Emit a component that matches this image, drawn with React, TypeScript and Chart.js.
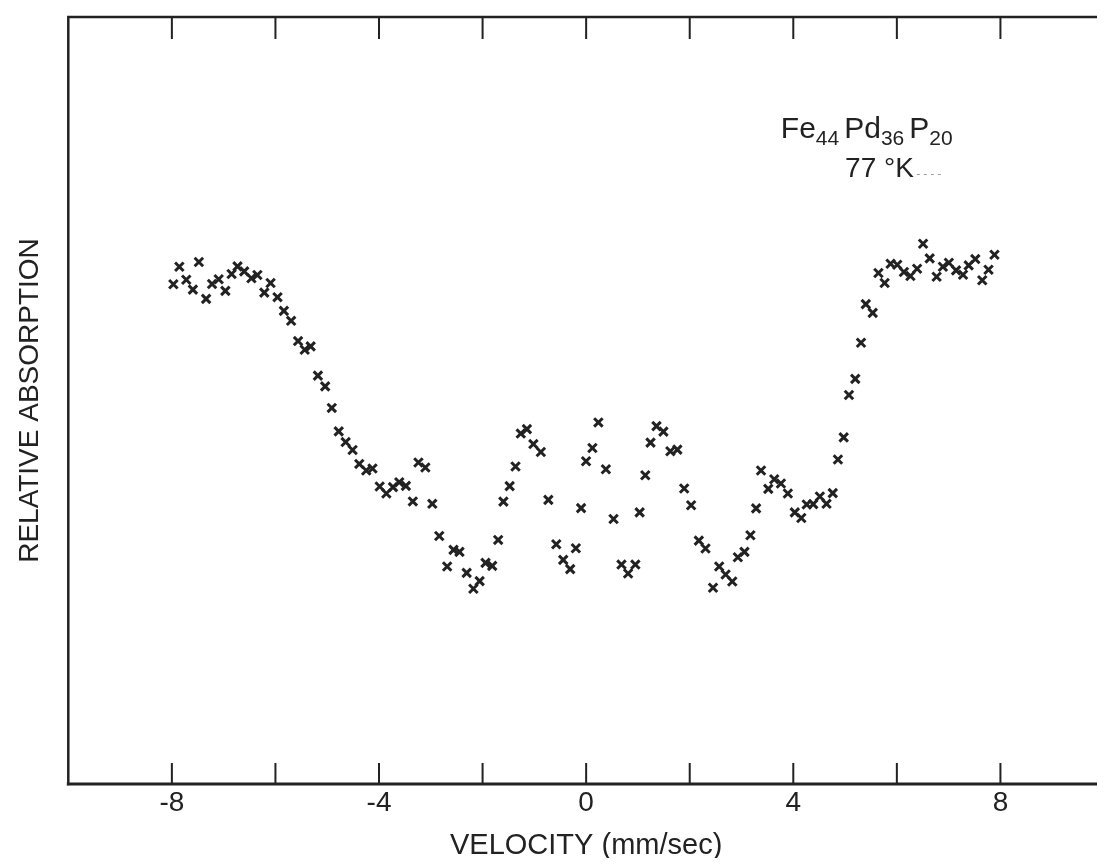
import React, { useEffect, useRef } from "react";
import { Chart, registerables } from "chart.js";

Chart.register(...registerables);

// Velocity (mm/sec) of each measured point
const velocity: number[] = [
  -7.971, -7.856, -7.722, -7.594, -7.479, -7.339, -7.224, -7.096, -6.967, -6.847,
  -6.732, -6.603, -6.464, -6.349, -6.215, -6.094, -5.96, -5.837, -5.697, -5.563,
  -5.435, -5.32, -5.18, -5.04, -4.912, -4.778, -4.644, -4.51, -4.381, -4.247,
  -4.126, -3.987, -3.858, -3.73, -3.609, -3.481, -3.347, -3.239, -3.105, -2.971,
  -2.837, -2.684, -2.561, -2.446, -2.307, -2.178, -2.057, -1.943, -1.814, -1.699,
  -1.598, -1.477, -1.364, -1.262, -1.144, -1.019, -0.875, -0.73, -0.577, -0.443,
  -0.308, -0.199, -0.098, -0.002, 0.121, 0.236, 0.381, 0.529, 0.682, 0.81,
  0.95, 1.033, 1.142, 1.243, 1.358, 1.492, 1.626, 1.761, 1.893, 2.027,
  2.176, 2.305, 2.45, 2.569, 2.693, 2.822, 2.929, 3.057, 3.172, 3.282,
  3.377, 3.517, 3.632, 3.761, 3.895, 4.029, 4.155, 4.259, 4.385, 4.513,
  4.642, 4.762, 4.862, 4.973, 5.075, 5.197, 5.308, 5.4, 5.534, 5.644,
  5.764, 5.879, 6.008, 6.136, 6.262, 6.391, 6.506, 6.634, 6.768, 6.889,
  7.004, 7.144, 7.278, 7.387, 7.515, 7.649, 7.77, 7.885,
];

// Relative absorption (arbitrary units, 0 = bottom of frame, 100 = top)
const absorption: number[] = [
  65.16, 67.44, 65.75, 64.45, 68.05, 63.25, 65.19, 65.81, 64.29, 66.49,
  67.49, 66.84, 65.94, 66.36, 64.06, 65.32, 63.47, 61.69, 60.39, 57.75,
  56.62, 57.05, 53.25, 51.84, 49.03, 45.97, 44.58, 43.55, 41.73, 40.87,
  41.13, 38.79, 37.88, 38.7, 39.35, 38.87, 36.84, 41.91, 41.26, 36.53,
  32.34, 28.35, 30.52, 30.26, 27.53, 25.45, 26.45, 28.83, 28.44, 31.82,
  36.82, 38.83, 41.39, 45.69, 46.27, 44.32, 43.29, 37.05, 31.26, 29.22,
  28.01, 30.74, 35.97, 42.08, 43.81, 47.14, 41.04, 34.55, 28.61, 27.44,
  28.61, 35.42, 40.26, 44.51, 46.66, 45.94, 43.38, 43.6, 38.53, 36.34,
  31.73, 30.71, 25.58, 28.35, 27.31, 26.4, 29.57, 30.26, 32.43, 35.94,
  40.87, 38.48, 39.74, 39.18, 37.88, 35.42, 34.68, 36.45, 36.49, 37.49,
  36.53, 37.92, 42.31, 45.19, 50.71, 52.82, 57.53, 62.56, 61.43, 66.62,
  65.32, 67.83, 67.7, 66.75, 66.23, 67.18, 70.43, 68.53, 66.14, 67.44,
  67.96, 66.97, 66.4, 67.62, 68.44, 65.68, 67.05, 69.0,
];

const xTickLabels: string[] = ["-8", "-4", "0", "4", "8"];
const xTitle = "VELOCITY (mm/sec)";
const yTitle = "RELATIVE ABSORPTION";
const compoundParts: { text: string; sub: boolean }[] = [
  { text: "Fe", sub: false },
  { text: "44", sub: true },
  { text: "Pd", sub: false },
  { text: "36", sub: true },
  { text: "P", sub: false },
  { text: "20", sub: true },
];
const temperatureLabel = "77 °K";

const INK = "#222222";
const FONT = '"Liberation Sans", Arial, Helvetica, sans-serif';

const framePlugin = {
  id: "frame",
  beforeDatasetsDraw(chart: any) {
    const { ctx, chartArea, scales } = chart;
    const { left, right, top, bottom } = chartArea;
    const x = scales.x;
    ctx.save();
    ctx.strokeStyle = INK;
    ctx.lineCap = "square";
    ctx.lineWidth = 2.5;
    ctx.beginPath();
    ctx.moveTo(left, bottom);
    ctx.lineTo(left, top);
    ctx.lineTo(right, top);
    ctx.lineTo(right, bottom);
    ctx.stroke();
    ctx.lineWidth = 3;
    ctx.beginPath();
    ctx.moveTo(left, bottom);
    ctx.lineTo(right, bottom);
    ctx.stroke();

    ctx.lineWidth = 2;
    ctx.lineCap = "butt";
    ctx.beginPath();
    x.ticks.forEach((t: any) => {
      if (Math.abs(t.value) >= 10) return;
      const px = x.getPixelForValue(t.value);
      ctx.moveTo(px, bottom);
      ctx.lineTo(px, bottom - 21);
      ctx.moveTo(px, top);
      ctx.lineTo(px, top + 22);
    });
    ctx.stroke();
    ctx.restore();
  },
  afterDraw(chart: any) {
    const { ctx, scales } = chart;
    const x = scales.x;
    const y = scales.y;
    ctx.save();
    ctx.fillStyle = INK;
    ctx.textBaseline = "alphabetic";
    ctx.textAlign = "left";
    // compound label
    let cx = x.getPixelForValue(3.76);
    const base = y.getPixelForValue(84.2);
    compoundParts.forEach((p, i) => {
      ctx.font = p.sub ? `21px ${FONT}` : `30px ${FONT}`;
      ctx.fillText(p.text, cx, p.sub ? base + 7 : base);
      cx += ctx.measureText(p.text).width + (p.sub && i < compoundParts.length - 1 ? 5 : 0);
    });
    // temperature label
    ctx.font = `28px ${FONT}`;
    const tx = x.getPixelForValue(5.0);
    const ty = y.getPixelForValue(79.2);
    ctx.fillText(temperatureLabel, tx, ty);
    const tw = ctx.measureText(temperatureLabel).width;
    ctx.strokeStyle = "#9a9a9a";
    ctx.lineWidth = 1;
    ctx.setLineDash([3, 4]);
    ctx.beginPath();
    ctx.moveTo(tx + tw + 3, ty - 2);
    ctx.lineTo(tx + tw + 31, ty - 2);
    ctx.stroke();
    ctx.restore();
  },
};

export default function App() {
  const ref = useRef<HTMLCanvasElement>(null);

  useEffect(() => {
    if (!ref.current) return;
    Chart.defaults.font.family = FONT;
    const chart = new Chart(ref.current, {
      type: "scatter",
      data: {
        datasets: [
          {
            data: velocity.map((v, i) => ({ x: v, y: absorption[i] })),
            pointStyle: "crossRot",
            pointRadius: 6,
            pointHoverRadius: 6,
            borderWidth: 3,
            borderColor: INK,
            backgroundColor: INK,
            showLine: false,
          },
        ],
      },
      options: {
        responsive: false,
        animation: false,
        events: [],
        layout: { padding: { top: 6, right: 0.6, left: 0, bottom: 0 } },
        plugins: {
          legend: { display: false },
          tooltip: { enabled: false },
          title: { display: false },
        },
        scales: {
          x: {
            type: "linear",
            min: -10,
            max: 10,
            grid: { display: false, drawTicks: false },
            border: { display: false },
            ticks: {
              stepSize: 2,
              autoSkip: false,
              maxRotation: 0,
              padding: 2.2,
              color: INK,
              font: { size: 28, family: FONT },
              callback: (value: any) => {
                const s = String(value);
                return xTickLabels.includes(s) ? s : "";
              },
            },
            title: {
              display: true,
              text: xTitle,
              color: INK,
              font: { size: 29, family: FONT, lineHeight: 0.8 },
              padding: { top: 0, bottom: 0.4 },
            },
            afterFit: (s: any) => {
              s.height = 74;
            },
          },
          y: {
            type: "linear",
            min: 0,
            max: 100,
            grid: { display: false, drawTicks: false },
            border: { display: false },
            ticks: { display: false },
            title: {
              display: true,
              text: yTitle,
              color: INK,
              font: { size: 28, family: FONT },
              padding: { top: 5.2, bottom: 0 },
            },
            afterFit: (s: any) => {
              s.width = 60.3;
            },
          },
        },
      },
      plugins: [framePlugin],
    } as any);
    return () => chart.destroy();
  }, []);

  return (
    <div style={{ width: 1097, height: 850, overflow: "hidden" }}>
      <canvas
        ref={ref}
        width={1105}
        height={850}
        style={{ display: "block", width: 1105, height: 850 }}
      />
    </div>
  );
}
